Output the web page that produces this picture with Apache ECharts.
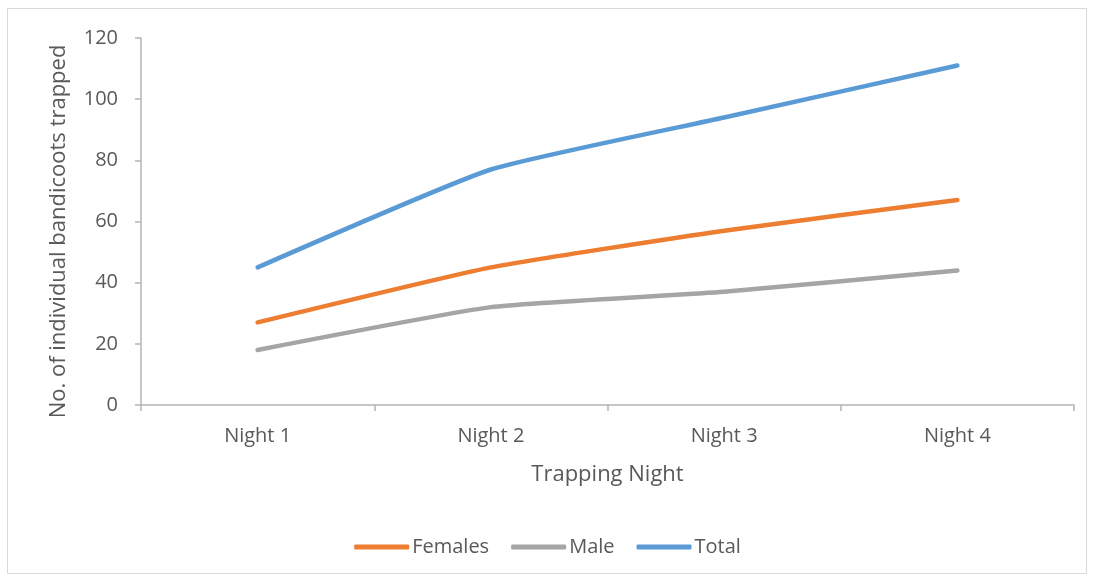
<!DOCTYPE html>
<html>
<head>
<meta charset="utf-8">
<script src="https://cdn.jsdelivr.net/npm/echarts@6/dist/echarts.min.js"></script>
<style>
  html, body { margin: 0; padding: 0; background: #fff; }
  #frame { position: absolute; left: 7px; top: 8px; width: 1080px; height: 566px; border: 1px solid #d9d9d9; box-sizing: border-box; }
  #chart { width: 1095px; height: 579px; }
</style>
</head>
<body>
<div id="frame"></div>
<div id="chart"></div>
<script>
// Bandicoot trapping counts per night
const nights = ['Night 1', 'Night 2', 'Night 3', 'Night 4'];
const females = [27, 45, 57, 67];
const male = [18, 32, 37, 44];
const total = [45, 77, 94, 111];

const textColor = '#595959';
const font = 'Open Sans';

function lineSeries(name, data, color) {
  return {
    name: name,
    type: 'line',
    data: data,
    smooth: 0.15,
    symbol: 'none',
    lineStyle: { color: color, width: 4.5, cap: 'round', join: 'round' },
    itemStyle: { color: color }
  };
}

const chart = echarts.init(document.getElementById('chart'), null, { renderer: 'canvas' });
chart.setOption({
  animation: false,
  textStyle: { fontFamily: font, color: textColor },
  grid: { left: 141, right: 21, top: 38, bottom: 174 },
  legend: {
    bottom: 17,
    left: 'center',
    itemWidth: 55,
    itemHeight: 5,
    itemGap: 22,
    icon: 'roundRect',
    textStyle: { fontSize: 20, color: textColor, fontFamily: font, padding: [0, 0, 0, -2] },
    data: ['Females', 'Male', 'Total']
  },
  xAxis: {
    type: 'category',
    data: nights,
    boundaryGap: true,
    name: 'Trapping Night',
    nameLocation: 'middle',
    nameGap: 59,
    nameTextStyle: { fontSize: 22, color: textColor, fontFamily: font },
    axisLine: { lineStyle: { color: '#b4b4b4', width: 1.5 } },
    axisTick: { show: true, length: 6, alignWithLabel: false, lineStyle: { color: '#b4b4b4', width: 1.5 } },
    axisLabel: { fontSize: 20, color: textColor, margin: 21, fontFamily: font }
  },
  yAxis: {
    type: 'value',
    min: 0,
    max: 120,
    interval: 20,
    name: 'No. of individual bandicoots trapped',
    nameLocation: 'middle',
    nameGap: 71,
    nameRotate: 90,
    nameTextStyle: { fontSize: 22, color: textColor, fontFamily: font, padding: [0, 20, 0, 0] },
    axisLine: { show: true, lineStyle: { color: '#b4b4b4', width: 1.5 } },
    axisTick: { show: true, length: 6, inside: false, lineStyle: { color: '#b4b4b4', width: 1.5 } },
    splitLine: { show: false },
    axisLabel: { fontSize: 20, color: textColor, margin: 23, fontFamily: font }
  },
  series: [
    lineSeries('Females', females, '#ED7D31'),
    lineSeries('Male', male, '#A5A5A5'),
    lineSeries('Total', total, '#5B9BD5')
  ]
});
</script>
</body>
</html>
